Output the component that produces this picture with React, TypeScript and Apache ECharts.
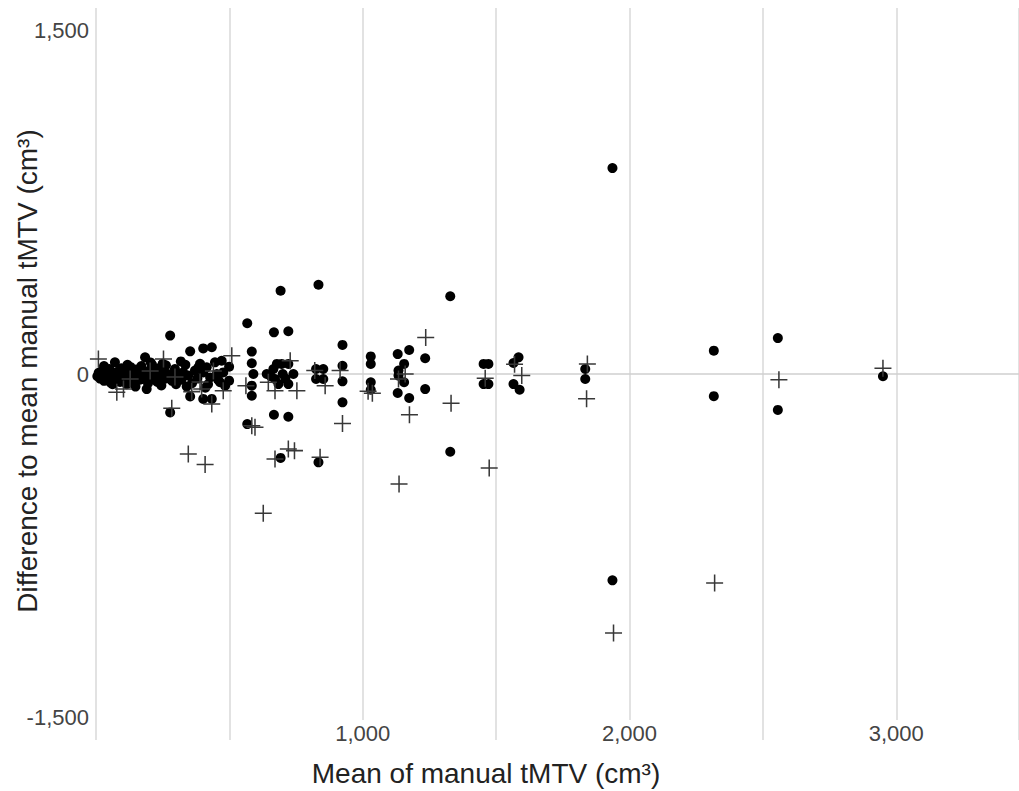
import React, { useEffect, useRef } from "react";
import * as echarts from "echarts";

// Mean of manual tMTV (x) vs difference to mean manual tMTV (y)
const circlePoints: number[][] = [
  [5, -10], [10, 5], [15, -20], [20, 12], [25, -5], [30, -30], [35, 15], [40, 0], [45, -15], [50, 22],
  [55, -38], [60, 5], [65, -12], [71, 51], [75, -25], [80, 10], [85, -5], [90, -35], [95, 25], [100, 0],
  [105, -15], [110, 15], [115, -45], [120, 5], [125, -20], [130, 30], [135, -10], [140, 0], [145, -30], [150, 20],
  [155, -5], [160, 10], [165, -25], [170, 35], [175, -15], [180, 5], [184, 73], [190, -66], [195, -40], [200, 15],
  [205, -10], [210, 40], [215, 0], [220, -25], [225, 10], [230, -35], [235, 25], [240, -5], [245, -50], [250, 45],
  [253, 15], [260, -20], [270, 0], [278, 168], [278, -168], [285, -30], [290, -10], [296, 22], [300, -45], [309, 0],
  [320, -25], [327, 7], [335, 40], [346, -7], [353, 99], [353, -98], [360, -40], [371, 15], [384, 29], [390, 45],
  [402, 112], [402, 7], [402, -109], [415, 29], [420, -45], [428, -15], [434, 117], [434, -109], [446, 51], [453, 0],
  [458, -25], [465, -36], [471, 58], [477, 7], [484, -51], [499, 32], [499, -29],
  [30, 35], [62, -45], [118, 40], [148, -55], [205, 50], [262, 38], [318, 55], [340, -55], [380, -20], [410, -60],
  [567, 222], [567, -219], [584, 98], [584, 47], [590, 0], [584, -51], [584, -95],
  [640, 0], [665, 22], [678, 44], [696, 44], [671, -22], [684, -44], [721, -44], [740, 0], [721, 44], [700, 0],
  [710, -20], [655, -10],
  [667, 182], [721, 187], [692, 364], [834, 390], [667, -178], [721, -187], [692, -367], [834, -386],
  [825, 22], [852, 22], [825, -22], [852, -22],
  [924, 127], [924, 36], [924, -32], [924, -124],
  [1030, 77], [1030, 44], [1030, -36], [1030, -69],
  [1131, 87], [1174, 105], [1155, 44], [1134, 15], [1134, -7], [1155, -36], [1131, -83], [1174, -105],
  [1234, 69], [1234, -66], [1328, 340], [1328, -340],
  [1453, 44], [1471, 44], [1453, -44], [1471, -44],
  [1565, 48], [1584, 73], [1565, -44], [1588, -69],
  [1834, 22], [1834, -22],
  [1936, 900], [1936, -902],
  [2316, 102], [2316, -97],
  [2556, 157], [2556, -157],
  [2950, -10],
];

const crossPoints: number[][] = [
  [9, 66], [78, -80], [103, -66], [128, -22], [203, 13], [253, 66], [284, -150], [296, -13], [359, -77], [346, -350],
  [390, -35], [409, -396], [434, -131], [440, 13], [477, -73], [509, 80], [396, -66], [562, -51], [596, -233], [584, -226],
  [627, -609], [646, -36], [671, -73], [728, 58], [753, -73], [671, -372], [721, -328], [744, -335], [820, 15], [840, -364],
  [859, -51], [915, 15], [924, -216], [1020, -75], [1036, -84], [1134, -22], [1159, 0], [1175, -178], [1136, -481], [1236, 160],
  [1331, -128], [1474, -411], [1459, -19], [1569, 43], [1596, -7], [1842, 44], [1839, -108], [1940, -1132], [2319, -914], [2560, -25],
  [2950, 25],
];

const xLabelValues = [1000, 2000, 3000];
const yLabelValues = [-1500, 0, 1500];

const xTitle = "Mean of manual tMTV (cm³)";
const yTitle = "Difference to mean manual tMTV (cm³)";

const FONT = '"Liberation Sans", Arial, sans-serif';
const CROSS =
  "path://M0,9.1 L20,9.1 L20,10.9 L0,10.9 Z M9.1,0 L10.9,0 L10.9,20 L9.1,20 Z";

export default function App() {
  const ref = useRef<HTMLDivElement>(null);

  useEffect(() => {
    if (!ref.current) return;
    const chart = echarts.init(ref.current, undefined, { renderer: "svg" });
    const fmt = (v: number) => v.toLocaleString("en-US");
    chart.setOption({
      animation: false,
      backgroundColor: "#ffffff",
      grid: { left: 96, right: 0, top: 8, bottom: 51, containLabel: false },
      xAxis: {
        type: "value",
        min: 0,
        max: 3460,
        interval: 500,
        axisLine: { show: false },
        axisTick: { show: false },
        splitLine: { show: true, lineStyle: { color: "#d9d9d9", width: 1.5 } },
        axisLabel: {
          customValues: xLabelValues,
          formatter: fmt,
          fontSize: 22,
          fontFamily: FONT,
          color: "#444444",
          margin: -20,
          backgroundColor: "#ffffff",
          padding: [2, 3, 2, 3],
        },
      },
      yAxis: {
        type: "value",
        min: -1600,
        max: 1600,
        axisLine: { show: false },
        axisTick: { show: false },
        splitLine: { show: false },
        axisLabel: {
          customValues: yLabelValues,
          formatter: fmt,
          fontSize: 22,
          fontFamily: FONT,
          color: "#444444",
          margin: 7,
          padding: [0, 0, 8, 0],
        },
      },
      graphic: [
        {
          type: "text",
          x: 27,
          y: 371,
          rotation: Math.PI / 2,
          style: {
            text: yTitle,
            font: `28px ${FONT}`,
            fill: "#222222",
            align: "center",
            verticalAlign: "middle",
          },
        },
        {
          type: "text",
          x: 486,
          y: 773,
          style: {
            text: xTitle,
            font: `28px ${FONT}`,
            fill: "#222222",
            align: "center",
            verticalAlign: "middle",
          },
        },
      ],
      series: [
        {
          type: "scatter",
          name: "circles",
          data: circlePoints,
          symbol: "circle",
          symbolSize: 10,
          itemStyle: { color: "#000000", opacity: 1 },
          markLine: {
            silent: true,
            symbol: "none",
            label: { show: false },
            lineStyle: { color: "#cfcfcf", width: 1.5, type: "solid" },
            data: [{ yAxis: 0 }],
            z: 1,
          },
          z: 3,
        },
        {
          type: "scatter",
          name: "crosses",
          data: crossPoints,
          symbol: CROSS,
          symbolSize: 17,
          itemStyle: { color: "#383838", opacity: 1 },
          z: 4,
        },
      ],
    });
    return () => chart.dispose();
  }, []);

  return (
    <div
      ref={ref}
      style={{ position: "fixed", left: 0, top: 0, width: 1019, height: 791 }}
    />
  );
}
